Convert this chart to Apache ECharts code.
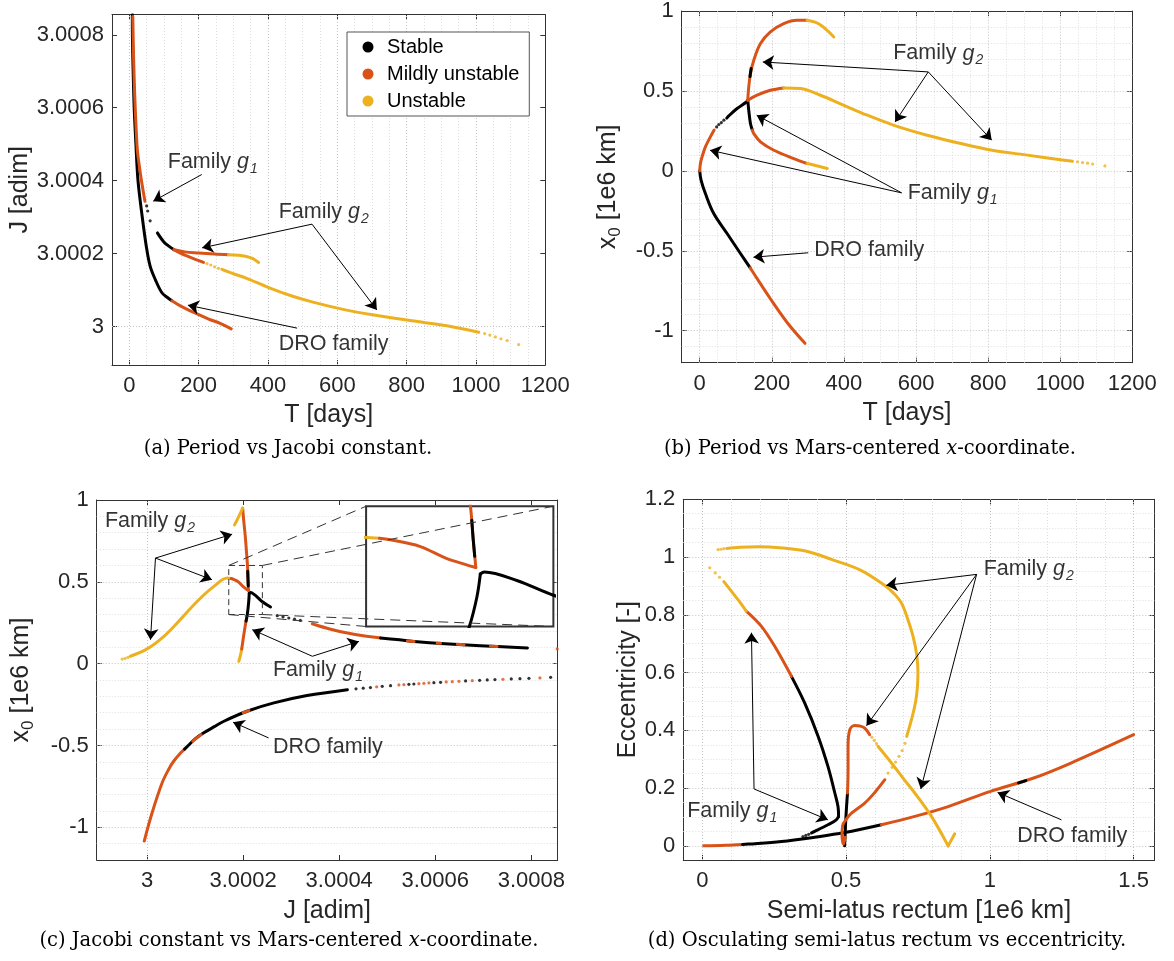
<!DOCTYPE html>
<html><head><meta charset="utf-8">
<script src="https://cdn.jsdelivr.net/npm/echarts@6/dist/echarts.min.js"></script>
<style>html,body{margin:0;padding:0;background:#fff}#c{width:1174px;height:961px}</style>
</head><body><div id="c"></div>
<script>
// ================= DATA =================
const STABLE = 'Stable', MILD = 'Mildly unstable', UNST = 'Unstable';

// ---- (a) T [days] vs J [adim]
const A_DRO_STABLE = [[8.6,3.000855],[9,3.00079],[11,3.00070],[14,3.00060],[19,3.00050],[25,3.00040],[36,3.00031],[49,3.00022],[60,3.000166],[75,3.000129],[94,3.000093],[110,3.000080],[123,3.000071]];
const A_DRO_MILD = [[123,3.000071],[147,3.000057],[186,3.000039],[229,3.000021],[262,3.000009],[294,2.999994]];
const A_G1_MILD_A = [[10,3.00085],[12,3.00075],[14,3.00068],[17,3.00060],[23,3.000486],[29,3.00044],[35,3.00040],[45,3.000344]];
const A_G1_STABLE_DOTS = [[50,3.000331],[53,3.000317],[60,3.000290]];
const A_G1_STABLE = [[81,3.000257],[99,3.000233],[115,3.000220],[129,3.000211]];
const A_G1_MILD_B = [[129,3.000211],[150,3.000200],[171,3.000192],[192,3.000184],[214,3.000176]];
const A_G2_MILD = [[129,3.000211],[160,3.000205],[200,3.000202],[245,3.000199],[286,3.000197]];
const A_G2_UNST_A = [[286,3.000197],[315,3.000196],[335,3.000193],[355,3.000187],[373,3.000176]];
const A_G2_UNST_B = [[267,3.000157],[300,3.000145],[335,3.000134],[402,3.000107],[469,3.000084],[527,3.000068],[623,3.000046],[719,3.000030],[815,3.000016],[912,3.000003],[1008,2.999985]];
const A_G2_UNST_DOTS = [[224,3.000173],[235,3.000169],[246,3.000164],[257,3.000160],[1025,2.999981],[1040,2.999977],[1056,2.999972],[1072,2.999967],[1090,2.999962],[1123,2.999951]];

// ---- (b) T [days] vs x0 [1e6 km]
const B_DRO_STABLE = [[0,0],[3.7,-0.058],[15.7,-0.142],[38.9,-0.267],[75.9,-0.392],[113,-0.517],[140,-0.607]];
const B_DRO_MILD = [[140,-0.607],[150,-0.642],[196,-0.80],[243,-0.95],[292,-1.079]];
const B_G1_MILD_A = [[0,0],[1.9,0.046],[6.5,0.0875],[15.7,0.15],[29.6,0.2125],[40,0.255]];
const B_G1_STABLE_DOTS = [[47,0.275],[53,0.29],[60,0.302],[67,0.317]];
const B_G1_STABLE_A = [[75,0.330],[80.6,0.344],[103.7,0.39],[129.6,0.431],[133.3,0.442]];
const B_G1_STABLE_B = [[133.3,0.442],[136,0.379],[140.7,0.296],[146,0.255]];
const B_G1_MILD_B = [[146,0.255],[150,0.233],[168.5,0.181],[205.6,0.129],[261,0.077],[298,0.046]];
const B_G1_UNST = [[298,0.046],[330,0.029],[354,0.015]];
const B_G2_MILD_A = [[133.3,0.442],[136,0.525],[140.7,0.608],[150,0.692],[168.5,0.796],[196,0.869],[233,0.921],[270,0.942],[298,0.942]];
const B_G2_STABLE_BITS = [[139.5,0.59],[142.5,0.64]];
const B_G2_UNST_A = [[298,0.942],[320,0.93],[340,0.905],[358,0.869],[372,0.8375]];
const B_G2_MILD_B = [[133.3,0.442],[159,0.473],[196,0.504],[233,0.519]];
const B_G2_UNST_B = [[233,0.519],[280,0.515],[335,0.473],[400,0.41],[465,0.348],[539,0.285],[631,0.223],[724,0.171],[811,0.129],[904,0.100],[1006,0.068],[1034,0.060]];
const B_G2_UNST_DOTS = [[1048,0.057],[1062,0.052],[1076,0.048],[1090,0.043],[1124,0.031]];

// ---- (c) J [adim] vs x0 [1e6 km]
const C_DRO_MILD = [[2.999994,-1.084],[3.0000104,-0.911],[3.0000313,-0.728],[3.000045,-0.645],[3.0000556,-0.595],[3.000070,-0.545],[3.000078,-0.522]];
const C_DRO_STABLE = [[3.000078,-0.522],[3.0000833,-0.507],[3.000100,-0.46],[3.000118,-0.423],[3.000140,-0.385],[3.000160,-0.352],[3.000208,-0.291],[3.000264,-0.24],[3.000333,-0.195],[3.000417,-0.159]];
const C_DRO_MILD_BITS = [[[3.000095,-0.474],[3.000112,-0.434]],[[3.000200,-0.300],[3.000212,-0.287]]];
const C_DRO_DOTS_STABLE = [[3.000435,-0.154],[3.000450,-0.150],[3.000465,-0.146],[3.0004896,-0.1385],[3.0005069,-0.1344],[3.0005451,-0.1263],[3.0005555,-0.1243],[3.0005972,-0.1161],[3.0006111,-0.1141],[3.0006632,-0.1059],[3.0006924,-0.1018],[3.0007083,-0.0998],[3.0007243,-0.0977],[3.0007583,-0.0937],[3.0007764,-0.0916],[3.0007951,-0.0896],[3.0008403,-0.0835]];
const C_DRO_DOTS_MILD = [[3.000478,-0.142],[3.0005243,-0.1304],[3.0005347,-0.1283],[3.0005660,-0.1222],[3.0005764,-0.1202],[3.0005868,-0.1181],[3.0006229,-0.1120],[3.0006354,-0.1100],[3.0006493,-0.1079],[3.0006771,-0.1039],[3.0007410,-0.0957],[3.0008180,-0.0875]];
const C_G1_UNST = [[3.000191,0.014],[3.000195,0.06],[3.000197,0.09]];
const C_G1_MILD_A = [[3.000197,0.09],[3.000200,0.15],[3.000203,0.2075],[3.000206,0.26]];
const C_G1_STABLE_A = [[3.000206,0.26],[3.0002086,0.30],[3.0002114,0.373],[3.0002127,0.431]];
const C_G1_STABLE_B = [[3.0002127,0.431],[3.0002142,0.436],[3.0002266,0.414],[3.000240,0.378],[3.000257,0.346]];
const C_G1_STABLE_DOTS = [[3.000271,0.293],[3.000283,0.286],[3.000295,0.279],[3.000307,0.272],[3.000319,0.264]];
const C_G1_MILD_B = [[3.000344,0.244],[3.000380,0.212],[3.000417,0.187],[3.000450,0.17],[3.000486,0.157]];
const C_G1_STABLE_C = [[3.000486,0.157],[3.000520,0.147],[3.000556,0.136],[3.000620,0.122],[3.000694,0.11],[3.000740,0.103],[3.000792,0.096]];
const C_G1_MILD_BITS = [[[3.000542,0.139],[3.000556,0.136]],[[3.000604,0.125],[3.000611,0.124]],[[3.000646,0.118],[3.000660,0.116]],[[3.000715,0.107],[3.000729,0.105]]];
const C_G1_MILD_DOTS = [[3.000854,0.090]];
const C_G2_UNST_DOTS = [[2.999948,0.028],[2.999954,0.032],[2.999960,0.038]];
const C_G2_UNST_A = [[2.999965,0.045],[3.0000,0.09],[3.000035,0.167],[3.000069,0.269],[3.000104,0.38],[3.000139,0.472],[3.000167,0.523],[3.000175,0.52]];
const C_G2_MILD_A = [[3.000175,0.52],[3.000180,0.515],[3.000190,0.50],[3.000200,0.47],[3.000207,0.455],[3.000211,0.447]];
const C_G2_MILD_B = [[3.000211,0.447],[3.0002107,0.47],[3.000210,0.52],[3.000209,0.60],[3.000207,0.68],[3.000205,0.757],[3.000203,0.82],[3.000201,0.879],[3.000199,0.95]];
const C_G2_STABLE_BITS = [[3.0002106,0.475],[3.0002100,0.52],[3.0002095,0.565]];
const C_G2_UNST_B = [[3.000199,0.95],[3.000195,0.925],[3.000191,0.90],[3.000186,0.87],[3.000182,0.848]];

// ---- (d) semi-latus rectum [1e6 km] vs eccentricity
const D_DRO_MILD_A = [[0.005,0.0],[0.08,0.002],[0.14,0.005]];
const D_DRO_STABLE = [[0.14,0.005],[0.159,0.006],[0.275,0.015],[0.391,0.030],[0.495,0.046],[0.623,0.073]];
const D_DRO_MILD_B = [[0.623,0.073],[0.739,0.102],[0.855,0.136],[1.0,0.188],[1.15,0.234],[1.28,0.286],[1.5,0.385]];
const D_DRO_STABLE_BITS = [[1.10,0.218],[1.125,0.226]];
const D_G1_STABLE_DOTS = [[0.35,0.032],[0.36,0.036],[0.37,0.040]];
const D_G1_STABLE_A = [[0.38,0.045],[0.391,0.05],[0.437,0.073],[0.466,0.090],[0.474,0.102]];
const D_G1_STABLE_B = [[0.474,0.102],[0.472,0.136],[0.461,0.183],[0.437,0.275],[0.403,0.379],[0.356,0.495],[0.31,0.587]];
const D_G1_MILD = [[0.31,0.587],[0.252,0.691],[0.205,0.761],[0.153,0.813]];
const D_G1_UNST = [[0.153,0.813],[0.13,0.845],[0.101,0.882],[0.075,0.915]];
const D_G1_UNST_DOTS = [[0.06,0.93],[0.045,0.945],[0.026,0.963]];
const D_G2_STABLE = [[0.495,0.0],[0.497,0.045],[0.499,0.09],[0.502,0.14],[0.505,0.183]];
const D_G2_MILD_A = [[0.505,0.183],[0.507,0.26],[0.507,0.345],[0.513,0.402],[0.53,0.417],[0.548,0.415],[0.565,0.408],[0.582,0.385]];
const D_G2_MILD_B = [[0.499,0.09],[0.519,0.113],[0.565,0.148],[0.60,0.185],[0.635,0.229]];
const D_G2_MILD_LOOP = [[0.499,0.09],[0.488,0.07],[0.486,0.035],[0.491,0.006],[0.497,0.03]];
const D_G2_UNST_DOTS_A = [[0.590,0.376],[0.598,0.365],[0.606,0.354]];
const D_G2_UNST_A = [[0.611,0.345],[0.658,0.287],[0.70,0.232],[0.739,0.183],[0.797,0.102],[0.855,0.0]];
const D_G2_UNST_B = [[0.855,0.0],[0.878,0.042]];
const D_G2_UNST_DOTS_B = [[0.646,0.252],[0.660,0.272],[0.672,0.290],[0.684,0.31],[0.695,0.33],[0.705,0.355]];
const D_G2_UNST_C = [[0.711,0.379],[0.742,0.50],[0.750,0.60],[0.746,0.66],[0.733,0.725],[0.716,0.78],[0.693,0.84],[0.664,0.876],[0.630,0.905],[0.55,0.955],[0.449,0.992],[0.366,1.019],[0.28,1.031],[0.196,1.036],[0.13,1.034],[0.085,1.03]];
const D_G2_UNST_DOTS_C = [[0.075,1.029],[0.065,1.027],[0.055,1.026]];

// ---- axis ranges and ticks
const A_X_RANGE = [-50, 1200], A_Y_RANGE = [2.999895, 3.000855];
const B_X_RANGE = [-50, 1200], B_Y_RANGE = [-1.2, 1];
const C_X_RANGE = [2.999895, 3.000855], C_Y_RANGE = [-1.2, 1];
const D_X_RANGE = [-0.066, 1.573], D_Y_RANGE = [-0.049, 1.2];
const T_TICKS = [0, 200, 400, 600, 800, 1000, 1200];
const J_TICKS = [3, 3.0002, 3.0004, 3.0006, 3.0008];
const X0_TICKS = [-1, -0.5, 0, 0.5, 1];
const P_TICKS = [0, 0.5, 1, 1.5];
const E_TICKS = [0, 0.2, 0.4, 0.6, 0.8, 1, 1.2];

// ---- annotations (data coordinates)
const A_TEXTS = [{t:'Family {g|g}{s|1}', x:108, y:3.000450}, {t:'Family {g|g}{s|2}', x:428, y:3.000313}, {t:'DRO family', x:428, y:2.999953}];
const A_ARROWS = [[[209,3.000417],[69,3.000344]], [[527,3.000281],[210,3.000216]], [[527,3.000281],[714,3.000046]], [[484,2.999996],[169,3.000059]]];
const B_TEXTS = [{t:'Family {g|g}{s|2}', x:534, y:0.734}, {t:'Family {g|g}{s|1}', x:574, y:-0.141}, {t:'DRO family', x:315, y:-0.496}];
const B_ARROWS = [[[634,0.619],[175,0.681]], [[634,0.619],[542,0.306]], [[634,0.619],[810,0.192]], [[560,-0.1375],[28.6,0.129]], [[560,-0.1375],[158,0.348]], [[301,-0.5125],[149,-0.54]]];
const C_TEXTS = [{t:'Family {g|g}{s|2}', x:2.99991, y:0.869}, {t:'Family {g|g}{s|1}', x:3.00026, y:-0.037}, {t:'DRO family', x:3.00026, y:-0.509}];
const C_ARROWS = [[[3.0000174,0.645],[3.000177,0.791]], [[3.0000174,0.645],[3.000135,0.513]], [[3.0000174,0.645],[3.000007,0.146]], [[3.000344,0.045],[3.000219,0.2075]], [[3.000344,0.045],[3.000441,0.136]], [[3.000253,-0.454],[3.000179,-0.358]]];
const D_TEXTS = [{t:'Family {g|g}{s|2}', x:0.975, y:0.958}, {t:'Family {g|g}{s|1}', x:-0.056, y:0.119}, {t:'DRO family', x:1.092, y:0.035}];
const D_ARROWS = [[[0.954,0.94],[0.64,0.902]], [[0.954,0.94],[0.571,0.416]], [[0.954,0.94],[0.76,0.197]], [[0.18,0.197],[0.171,0.738]], [[0.18,0.197],[0.437,0.09]], [[1.249,0.09],[1.027,0.185]]];
const C_ZOOM_BOX = [3.00017, 3.00024, 0.30, 0.60];      // [xmin, xmax, ymin, ymax]
const C_INSET_BOX = [3.000456, 3.000846, 0.227, 0.962]; // inset placement in (c) data coords
const CAPTIONS = [
  {t:'(a) Period vs Jacobi constant.', x:288, y:449},
  {t:'(b) Period vs Mars-centered {i|x}-coordinate.', x:870, y:449},
  {t:'(c) Jacobi constant vs Mars-centered {i|x}-coordinate.', x:289, y:941},
  {t:'(d) Osculating semi-latus rectum vs eccentricity.', x:887, y:941}
];

// ================= STYLE / LAYOUT =================
const FONT = '"Liberation Sans", Arial, Helvetica, sans-serif';
const SERIF = '"DejaVu Serif", "Liberation Serif", serif';
const COLOR = {[STABLE]:'#000000', [MILD]:'#D95319', [UNST]:'#EDB120'};
const AXIS_C = '#333333';
const MAJOR_C = '#c4c4c4', MINOR_C = '#dedede';
const GRIDS = [
  {left:112, top:14.7, width:433.3, height:350.3},
  {left:681.7, top:10.7, width:450.6, height:352},
  {left:96.7, top:500, width:461, height:360},
  {left:683.3, top:499.3, width:471.3, height:360.7}
];
const fmt = v => String(Math.round(v * 1e6) / 1e6);

const xAxes = [], yAxes = [], series = [];

function gridVals(range, step, majorStep, wantMajor) {
  const out = [];
  const k0 = Math.ceil(range[0] / step - 1e-9), k1 = Math.floor(range[1] / step + 1e-9);
  for (let k = k0; k <= k1; k++) {
    const v = +(k * step).toFixed(9);
    const r = v / majorStep;
    const isMajor = Math.abs(r - Math.round(r)) < 1e-6;
    if (isMajor === wantMajor && v > range[0] + 1e-12 && v < range[1] - 1e-12) out.push(v);
  }
  return out;
}

const nameStyle = {fontSize:25, fontFamily:FONT, color:'#262626',
  rich:{x:{fontSize:25, fontFamily:FONT, color:'#262626'}, s:{fontSize:17, fontFamily:FONT, color:'#262626', padding:[14,0,0,0]}}};
const labelStyle = {fontSize:22, fontFamily:FONT, color:'#262626'};

function addPanel(gi, xr, yr, xt, yt, xName, yName, xGap, yGap, xMinor, yMinor) {
  const base = {type:'value', gridIndex:gi, splitLine:{show:false}, minorSplitLine:{show:false}, silent:true};
  xAxes.push(Object.assign({}, base, {position:'bottom', min:xr[0], max:xr[1],
    axisLine:{onZero:false, lineStyle:{color:AXIS_C, width:1}},
    axisTick:{inside:true, length:5, customValues:xt, lineStyle:{color:AXIS_C}},
    axisLabel:Object.assign({customValues:xt, formatter:fmt, margin:10, hideOverlap:false}, labelStyle),
    name:xName, nameLocation:'middle', nameGap:xGap, nameTextStyle:nameStyle}));
  xAxes.push(Object.assign({}, base, {position:'top', min:xr[0], max:xr[1],
    axisLine:{onZero:false, lineStyle:{color:AXIS_C, width:1}},
    axisTick:{inside:true, length:5, customValues:xt, lineStyle:{color:AXIS_C}},
    axisLabel:{show:false}}));
  yAxes.push(Object.assign({}, base, {position:'left', min:yr[0], max:yr[1],
    axisLine:{onZero:false, lineStyle:{color:AXIS_C, width:1}},
    axisTick:{inside:true, length:5, customValues:yt, lineStyle:{color:AXIS_C}},
    axisLabel:Object.assign({customValues:yt, formatter:fmt, margin:8, hideOverlap:false}, labelStyle),
    name:yName, nameLocation:'middle', nameGap:yGap, nameTextStyle:nameStyle}));
  yAxes.push(Object.assign({}, base, {position:'right', min:yr[0], max:yr[1],
    axisLine:{onZero:false, lineStyle:{color:AXIS_C, width:1}},
    axisTick:{inside:true, length:5, customValues:yt, lineStyle:{color:AXIS_C}},
    axisLabel:{show:false}}));
  const xi = 2 * gi, yi = 2 * gi;
  const ml = [];
  const xMaj = xt[1] - xt[0], yMaj = yt[1] - yt[0];
  gridVals(xr, xMinor, xMaj, false).forEach(v => ml.push({xAxis:v, lineStyle:{color:MINOR_C, type:[1,2], width:1}}));
  gridVals(yr, yMinor, yMaj, false).forEach(v => ml.push({yAxis:v, lineStyle:{color:MINOR_C, type:[1,2], width:1}}));
  xt.filter(v => v > xr[0] && v < xr[1]).forEach(v => ml.push({xAxis:v, lineStyle:{color:MAJOR_C, type:[1,2], width:1}}));
  yt.filter(v => v > yr[0] && v < yr[1]).forEach(v => ml.push({yAxis:v, lineStyle:{color:MAJOR_C, type:[1,2], width:1}}));
  series.push({type:'line', xAxisIndex:xi, yAxisIndex:yi, data:[], silent:true, z:1, animation:false,
    markLine:{silent:true, symbol:['none','none'], label:{show:false}, animation:false, z:1, emphasis:{disabled:true}, data:ml}});
}

function addLine(pts, cls, xi, yi, z) {
  series.push({type:'line', name:cls, xAxisIndex:xi, yAxisIndex:yi, data:pts, smooth:0.35, symbol:'none', showSymbol:false,
    silent:true, animation:false, clip:true, z:z || 3,
    lineStyle:{width:3, color:COLOR[cls], cap:'round', join:'round'}, itemStyle:{color:COLOR[cls]}});
}
function addDots(pts, cls, xi, yi, z) {
  series.push({type:'scatter', name:cls, xAxisIndex:xi, yAxisIndex:yi, data:pts, symbolSize:3.2,
    silent:true, animation:false, clip:true, z:z || 3, itemStyle:{color:COLOR[cls]}});
}
const textRich = {
  g:{fontStyle:'italic', fontSize:21.5, fontFamily:FONT, color:'#000'},
  s:{fontStyle:'italic', fontSize:14, fontFamily:FONT, color:'#000', padding:[14,0,0,1]}
};
function addTexts(items, xi, yi) {
  series.push({type:'scatter', xAxisIndex:xi, yAxisIndex:yi, symbolSize:2, silent:true, animation:false, z:4, clip:false,
    itemStyle:{color:'rgba(0,0,0,0)'},
    data:items.map(it => ({value:[it.x, it.y], label:{show:true, formatter:it.t}})),
    label:{show:true, position:'right', distance:0, color:'#000', fontSize:21.5, fontFamily:FONT, lineHeight:26, rich:textRich},
    labelLayout:{hideOverlap:false}});
}
function addArrows(arrs, xi, yi) {
  series.push({type:'lines', coordinateSystem:'cartesian2d', xAxisIndex:xi, yAxisIndex:yi, silent:true, animation:false, z:4,
    symbol:['none','arrow'], symbolSize:11,
    lineStyle:{color:'#000', width:1, opacity:1, curveness:0},
    data:arrs.map(a => ({coords:a}))});
}

// ---- panels
addPanel(0, A_X_RANGE, A_Y_RANGE, T_TICKS, J_TICKS, 'T [days]', 'J [adim]', 38, 77, 50, 0.00005);
addPanel(1, B_X_RANGE, B_Y_RANGE, T_TICKS, X0_TICKS, 'T [days]', '{x|x}{s|0} [1e6 km]', 38, 58, 50, 0.1);
addPanel(2, C_X_RANGE, C_Y_RANGE, J_TICKS, X0_TICKS, 'J [adim]', '{x|x}{s|0} [1e6 km]', 39, 60, 0.00005, 0.1);
addPanel(3, D_X_RANGE, D_Y_RANGE, P_TICKS, E_TICKS, 'Semi-latus rectum [1e6 km]', 'Eccentricity [-]', 39, 42, 0.1, 0.05);

// (a)
[[A_DRO_STABLE,STABLE],[A_DRO_MILD,MILD],[A_G1_MILD_A,MILD],[A_G1_STABLE,STABLE],[A_G1_MILD_B,MILD],
 [A_G2_MILD,MILD],[A_G2_UNST_A,UNST],[A_G2_UNST_B,UNST]].forEach(([d,c]) => addLine(d, c, 0, 0));
addDots(A_G1_STABLE_DOTS, STABLE, 0, 0); addDots(A_G2_UNST_DOTS, UNST, 0, 0);
// (b)
[[B_DRO_STABLE,STABLE],[B_DRO_MILD,MILD],[B_G1_MILD_A,MILD],[B_G1_STABLE_A,STABLE],[B_G1_STABLE_B,STABLE],[B_G1_MILD_B,MILD],
 [B_G1_UNST,UNST],[B_G2_MILD_A,MILD],[B_G2_STABLE_BITS,STABLE],[B_G2_UNST_A,UNST],[B_G2_MILD_B,MILD],[B_G2_UNST_B,UNST]].forEach(([d,c]) => addLine(d, c, 2, 2));
addDots(B_G1_STABLE_DOTS, STABLE, 2, 2); addDots(B_G2_UNST_DOTS, UNST, 2, 2);
// (c) main + inset
function addPanelC(xi, yi, z) {
  [[C_DRO_MILD,MILD],[C_DRO_STABLE,STABLE],[C_G1_UNST,UNST],[C_G1_MILD_A,MILD],[C_G1_STABLE_A,STABLE],[C_G1_STABLE_B,STABLE],
   [C_G1_MILD_B,MILD],[C_G1_STABLE_C,STABLE],[C_G2_UNST_A,UNST],[C_G2_MILD_A,MILD],[C_G2_MILD_B,MILD],[C_G2_STABLE_BITS,STABLE],
   [C_G2_UNST_B,UNST]].forEach(([d,c]) => addLine(d, c, xi, yi, z));
  C_DRO_MILD_BITS.forEach(d => addLine(d, MILD, xi, yi, z));
  C_G1_MILD_BITS.forEach(d => addLine(d, MILD, xi, yi, z));
  addDots(C_DRO_DOTS_STABLE, STABLE, xi, yi, z); addDots(C_DRO_DOTS_MILD, MILD, xi, yi, z);
  addDots(C_G1_STABLE_DOTS, STABLE, xi, yi, z); addDots(C_G1_MILD_DOTS, MILD, xi, yi, z);
  addDots(C_G2_UNST_DOTS, UNST, xi, yi, z);
}
addPanelC(4, 4, 3);
// (d)
[[D_DRO_MILD_A,MILD],[D_DRO_STABLE,STABLE],[D_DRO_MILD_B,MILD],[D_DRO_STABLE_BITS,STABLE],[D_G1_STABLE_A,STABLE],[D_G1_STABLE_B,STABLE],
 [D_G1_MILD,MILD],[D_G1_UNST,UNST],[D_G2_STABLE,STABLE],[D_G2_MILD_A,MILD],[D_G2_MILD_B,MILD],[D_G2_MILD_LOOP,MILD],
 [D_G2_UNST_A,UNST],[D_G2_UNST_B,UNST],[D_G2_UNST_C,UNST]].forEach(([d,c]) => addLine(d, c, 6, 6));
addDots(D_G1_STABLE_DOTS, STABLE, 6, 6); addDots(D_G1_UNST_DOTS, UNST, 6, 6);
addDots(D_G2_UNST_DOTS_A, UNST, 6, 6); addDots(D_G2_UNST_DOTS_B, UNST, 6, 6); addDots(D_G2_UNST_DOTS_C, UNST, 6, 6);

// annotations
addTexts(A_TEXTS, 0, 0); addArrows(A_ARROWS, 0, 0);
addTexts(B_TEXTS, 2, 2); addArrows(B_ARROWS, 2, 2);
addTexts(C_TEXTS, 4, 4); addArrows(C_ARROWS, 4, 4);
addTexts(D_TEXTS, 6, 6); addArrows(D_ARROWS, 6, 6);

// inset grid for (c)
const gc = GRIDS[2];
const cx = v => gc.left + (v - C_X_RANGE[0]) / (C_X_RANGE[1] - C_X_RANGE[0]) * gc.width;
const cy = v => gc.top + (C_Y_RANGE[1] - v) / (C_Y_RANGE[1] - C_Y_RANGE[0]) * gc.height;
const insetGrid = {left:cx(C_INSET_BOX[0]), top:cy(C_INSET_BOX[3]),
  width:cx(C_INSET_BOX[1]) - cx(C_INSET_BOX[0]), height:cy(C_INSET_BOX[2]) - cy(C_INSET_BOX[3]),
  show:true, backgroundColor:'#ffffff', borderColor:'#333333', borderWidth:2, z:5};
xAxes.push({type:'value', gridIndex:4, min:C_ZOOM_BOX[0], max:C_ZOOM_BOX[1], show:false, splitLine:{show:false}});
yAxes.push({type:'value', gridIndex:4, min:C_ZOOM_BOX[2], max:C_ZOOM_BOX[3], show:false, splitLine:{show:false}});
addPanelC(8, 8, 6);

// zoom rectangle + connectors
const zb = C_ZOOM_BOX, ib = C_INSET_BOX;
series.push({type:'lines', coordinateSystem:'cartesian2d', xAxisIndex:4, yAxisIndex:4, polyline:true, silent:true, animation:false, z:7,
  symbol:['none','none'], lineStyle:{color:'#333', width:1, type:[6,4], opacity:1},
  data:[{coords:[[zb[0],zb[2]],[zb[1],zb[2]],[zb[1],zb[3]],[zb[0],zb[3]],[zb[0],zb[2]]]}]});
series.push({type:'lines', coordinateSystem:'cartesian2d', xAxisIndex:4, yAxisIndex:4, silent:true, animation:false, z:7,
  symbol:['none','none'], lineStyle:{color:'#333', width:1, type:[10,6], opacity:1},
  data:[
    {coords:[[zb[0],zb[3]],[ib[0],ib[3]]]},
    {coords:[[zb[1],zb[3]],[ib[1],ib[3]]]},
    {coords:[[zb[0],zb[2]],[ib[0],ib[2]]]},
    {coords:[[zb[1],zb[2]],[ib[1],ib[2]]]}
  ]});

const option = {
  animation:false,
  backgroundColor:'#ffffff',
  textStyle:{fontFamily:FONT},
  grid:GRIDS.map(g => Object.assign({containLabel:false, show:false}, g)).concat([insetGrid]),
  xAxis:xAxes, yAxis:yAxes,
  legend:{data:[STABLE, MILD, UNST], orient:'vertical', left:347, top:32, icon:'circle', itemWidth:28, itemHeight:11,
    itemGap:7, padding:[5,10,5,15.5], borderColor:'#555', borderWidth:1, backgroundColor:'#fff', selectedMode:false,
    textStyle:{fontSize:20, fontFamily:FONT, color:'#000'}, z:6},
  graphic:CAPTIONS.map(c => ({type:'text', x:c.x, y:c.y, silent:true,
    style:{text:c.t, fontSize:19.5, fontFamily:SERIF, fill:'#000', align:'center', verticalAlign:'middle',
      rich:{i:{fontStyle:'italic', fontSize:19.5, fontFamily:SERIF, fill:'#000'}}}})),
  series:series
};
const chart = echarts.init(document.getElementById('c'), null, {renderer:'canvas'});
chart.setOption(option);
</script></body></html>
